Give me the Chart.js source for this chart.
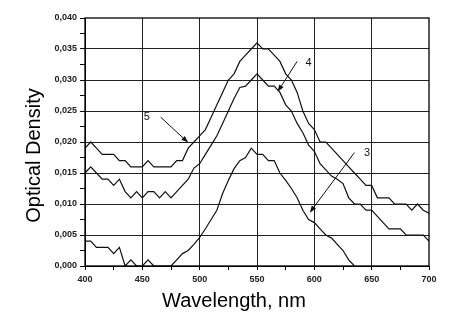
<!DOCTYPE html>
<html>
<head>
<meta charset="utf-8">
<script src="https://cdn.jsdelivr.net/npm/chart.js@4/dist/chart.umd.min.js"></script>
<style>
  html, body { margin: 0; padding: 0; background: #fff; }
  canvas { display: block; }
</style>
</head>
<body>
<canvas id="c" width="463" height="330"></canvas>
<script>
// ---- data ----
const wavelengths = [400,405,410,415,420,425,430,435,440,445,450,455,460,465,470,475,480,485,490,495,
  500,505,510,515,520,525,530,535,540,545,550,555,560,565,570,575,580,585,590,595,
  600,605,610,615,620,625,630,635,640,645,650,655,660,665,670,675,680,685,690,695,700];

const od5 = [0.019,0.020,0.019,0.018,0.018,0.018,0.017,0.017,0.016,0.016,0.016,0.017,0.016,0.016,0.016,0.016,0.017,0.017,0.019,0.020,
  0.021,0.022,0.024,0.026,0.028,0.030,0.031,0.033,0.034,0.035,0.036,0.035,0.035,0.034,0.033,0.031,0.030,0.028,0.025,0.023,
  0.022,0.020,0.020,0.019,0.018,0.017,0.016,0.015,0.014,0.013,0.013,0.011,0.011,0.011,0.010,0.010,0.010,0.009,0.010,0.009,0.0085];

const od4 = [0.015,0.016,0.015,0.014,0.014,0.013,0.014,0.012,0.011,0.012,0.011,0.012,0.012,0.011,0.012,0.011,0.012,0.013,0.014,0.0158,
  0.0165,0.018,0.0195,0.021,0.023,0.025,0.027,0.0288,0.029,0.030,0.031,0.030,0.029,0.029,0.028,0.026,0.025,0.023,0.0215,0.0195,
  0.0185,0.0165,0.0155,0.0145,0.014,0.0133,0.011,0.010,0.010,0.009,0.009,0.008,0.007,0.006,0.006,0.006,0.005,0.005,0.005,0.005,0.004];

const od3 = [0.004,0.004,0.003,0.003,0.003,0.002,0.003,0.000,0.001,0.000,0.000,0.001,0.000,0.000,0.000,0.000,0.001,0.002,0.0025,0.0035,
  0.0046,0.006,0.0075,0.009,0.0117,0.0138,0.0157,0.017,0.0175,0.019,0.018,0.018,0.017,0.017,0.015,0.0138,0.0125,0.011,0.009,0.0075,
  0.007,0.006,0.005,0.0045,0.0035,0.0025,0.001,0.000,null,null,null,null,null,null,null,null,null,null,null,null,null];

const xTitle = 'Wavelength, nm';
const yTitle = 'Optical Density';

// annotations: [label, labelX, labelY, arrowFromX, arrowFromY, arrowToX, arrowToY] in data units
const curveLabels = [
  ['5', 454, 0.0240, 466, 0.0240, 490, 0.0199],
  ['4', 595, 0.0328, 585, 0.0330, 568, 0.0281],
  ['3', 646, 0.0183, 635, 0.0183, 596, 0.0086]
];

const toXY = (arr) => wavelengths.map((w, i) => ({ x: w, y: arr[i] }));

const FONT = '"Liberation Sans", Arial, Helvetica, sans-serif';

const isMult = (v, step) => Math.abs(v / step - Math.round(v / step)) < 1e-6;

const decorPlugin = {
  id: 'decor',
  beforeDraw(chart) {
    const ctx = chart.ctx;
    ctx.save();
    ctx.fillStyle = '#fff';
    ctx.fillRect(0, 0, chart.width, chart.height);
    ctx.restore();
  },
  afterDraw(chart) {
    const ctx = chart.ctx;
    const a = chart.chartArea;
    const xs = chart.scales.x, ys = chart.scales.y;
    ctx.save();
    // frame
    ctx.strokeStyle = '#000';
    ctx.lineWidth = 1.3;
    ctx.strokeRect(a.left, a.top, a.right - a.left, a.bottom - a.top);

    // curve labels and arrows
    ctx.fillStyle = '#111';
    ctx.strokeStyle = '#111';
    ctx.lineWidth = 1;
    ctx.font = '11px ' + FONT;
    ctx.textAlign = 'center';
    ctx.textBaseline = 'middle';
    curveLabels.forEach(([t, lx, ly, fx, fy, tx, ty]) => {
      ctx.fillText(t, xs.getPixelForValue(lx), ys.getPixelForValue(ly));
      const x1 = xs.getPixelForValue(fx), y1 = ys.getPixelForValue(fy);
      const x2 = xs.getPixelForValue(tx), y2 = ys.getPixelForValue(ty);
      const ang = Math.atan2(y2 - y1, x2 - x1);
      const hl = 7, hw = 2.6;
      const bx = x2 - hl * Math.cos(ang), by = y2 - hl * Math.sin(ang);
      ctx.beginPath();
      ctx.moveTo(x1, y1);
      ctx.lineTo(bx, by);
      ctx.stroke();
      ctx.beginPath();
      ctx.moveTo(x2, y2);
      ctx.lineTo(bx + hw * Math.sin(ang), by - hw * Math.cos(ang));
      ctx.lineTo(bx - hw * Math.sin(ang), by + hw * Math.cos(ang));
      ctx.closePath();
      ctx.fill();
    });

    // axis titles
    ctx.fillStyle = '#000';
    ctx.font = '20px ' + FONT;
    ctx.textAlign = 'center';
    ctx.textBaseline = 'alphabetic';
    ctx.fillText(xTitle, 234, 307);
    ctx.translate(40, 155.5);
    ctx.rotate(-Math.PI / 2);
    ctx.fillText(yTitle, 0, 0);
    ctx.restore();
  }
};

const lineStyle = { borderColor: '#111', borderWidth: 1.2, pointRadius: 0, tension: 0, fill: false, spanGaps: false };

new Chart(document.getElementById('c'), {
  type: 'line',
  data: {
    datasets: [
      Object.assign({ label: '5', data: toXY(od5) }, lineStyle),
      Object.assign({ label: '4', data: toXY(od4) }, lineStyle),
      Object.assign({ label: '3', data: toXY(od3) }, lineStyle)
    ]
  },
  options: {
    responsive: false,
    devicePixelRatio: 1,
    animation: false,
    layout: { padding: { left: 0, top: 18, right: 34, bottom: 0 } },
    plugins: { legend: { display: false }, tooltip: { enabled: false } },
    scales: {
      x: {
        type: 'linear',
        min: 400, max: 700,
        afterFit: (s) => { s.height = 64; },
        border: { display: true, color: '#000', width: 1 },
        grid: {
          color: (c) => (c.tick && isMult(c.tick.value, 50) && c.tick.value > 400 && c.tick.value < 700) ? '#222' : 'rgba(0,0,0,0)',
          borderDash: [1, 2.5],
          lineWidth: 1,
          drawTicks: true,
          tickLength: 4,
          tickColor: '#000',
          tickBorderDash: [],
          tickWidth: 1
        },
        ticks: {
          stepSize: 25,
          autoSkip: false,
          maxRotation: 0,
          padding: 4,
          color: '#222',
          font: { family: FONT, size: 9, weight: 'bold' },
          callback: (v) => isMult(v, 50) ? String(v) : ''
        }
      },
      y: {
        type: 'linear',
        min: 0, max: 0.04,
        afterFit: (s) => { s.width = 85; },
        border: { display: true, color: '#000', width: 1 },
        grid: {
          color: (c) => (c.tick && isMult(c.tick.value, 0.005) && c.tick.value > 0.0001 && c.tick.value < 0.0399) ? '#222' : 'rgba(0,0,0,0)',
          borderDash: [1, 2.5],
          lineWidth: 1,
          drawTicks: true,
          tickLength: 5,
          tickColor: '#000',
          tickBorderDash: [],
          tickWidth: 1
        },
        ticks: {
          stepSize: 0.0025,
          maxTicksLimit: 40,
          autoSkip: false,
          padding: 3,
          color: '#222',
          font: { family: FONT, size: 9, weight: 'bold' },
          callback: (v) => isMult(v, 0.005) ? v.toFixed(3).replace('.', ',') : ''
        }
      }
    }
  },
  plugins: [decorPlugin]
});
</script>
</body>
</html>
